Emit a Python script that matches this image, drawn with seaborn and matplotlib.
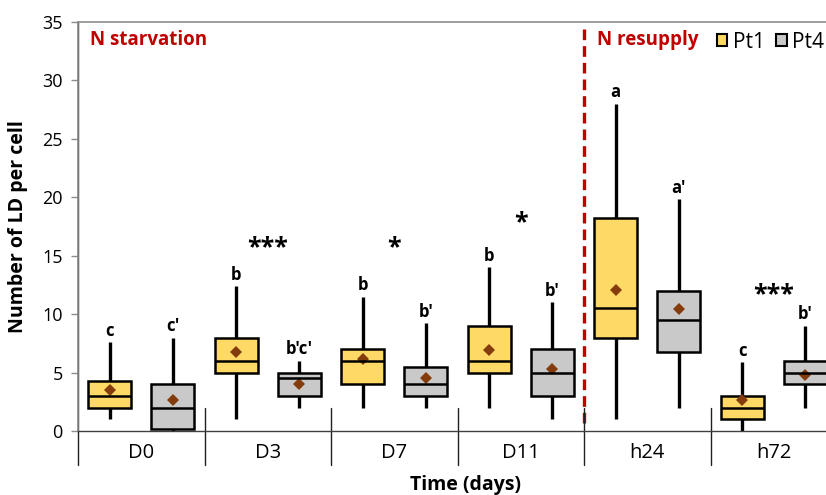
import numpy as np
import pandas as pd
import seaborn as sns
import matplotlib.pyplot as plt
from matplotlib.patches import Patch

# Data
days = ["D0", "D3", "D7", "D11", "h24", "h72"]
strains = ["Pt1", "Pt4"]

# five-number summaries: min, Q1, median, Q3, max
pt1_min = [1, 1, 2, 2, 1, 0]
pt1_q1 = [2, 5, 4, 5, 8, 1]
pt1_med = [3, 6, 6, 6, 10.5, 2]
pt1_q3 = [4.25, 8, 7, 9, 18.2, 3]
pt1_max = [7.6, 12.4, 11.5, 14, 28, 5.9]
pt1_mean = [3.55, 6.8, 6.2, 6.95, 12.05, 2.65]

pt4_min = [0, 2, 2, 1, 2, 2]
pt4_q1 = [0.2, 3, 3, 3, 6.75, 4]
pt4_med = [2, 4.5, 4, 5, 9.5, 5]
pt4_q3 = [4, 5, 5.5, 7, 12, 6]
pt4_max = [8, 6, 9.2, 11, 19.85, 9]
pt4_mean = [2.65, 4.05, 4.55, 5.3, 10.4, 4.75]

pt1_letters = ["c", "b", "b", "b", "a", "c"]
pt4_letters = ["c'", "b'c'", "b'", "b'", "a'", "b'"]
signif = ["", "***", "*", "*", "", "***"]
signif_base = [0, 15.1, 15.1, 17.3, 0, 11.1]

colors = {"Pt1": "#FFD966", "Pt4": "#C9C9C9"}
mean_color = "#843C0C"
red = "#C00000"

# long table: 5 values per box -> quartiles of 5 points are exactly Q1/med/Q3
rows = []
summ = {"Pt1": [pt1_min, pt1_q1, pt1_med, pt1_q3, pt1_max],
        "Pt4": [pt4_min, pt4_q1, pt4_med, pt4_q3, pt4_max]}
for s in strains:
    for i, d in enumerate(days):
        for arr in summ[s]:
            rows.append({"day": d, "strain": s, "value": arr[i]})
df = pd.DataFrame(rows)

means = pd.DataFrame({
    "day": days * 2,
    "strain": ["Pt1"] * 6 + ["Pt4"] * 6,
    "mean": pt1_mean + pt4_mean,
})

sns.set_style("white")
plt.rcParams["font.family"] = ["Open Sans", "DejaVu Sans"]
plt.rcParams["text.color"] = "black"
plt.rcParams["axes.labelcolor"] = "black"
plt.rcParams["xtick.color"] = "black"
plt.rcParams["ytick.color"] = "black"

fig = plt.figure(figsize=(8.26, 4.95), dpi=100)
ax = fig.add_axes([78 / 826, 1 - 431 / 495, 759 / 826, 409 / 495])

sns.boxplot(data=df, x="day", y="value", hue="strain", order=days,
            hue_order=strains, palette=colors, saturation=1, whis=np.inf,
            width=1.0, gap=0.32, linecolor="black", linewidth=1.8,
            showcaps=False, legend=False, ax=ax,
            whiskerprops={"linewidth": 2.4, "color": "black"})

sns.pointplot(data=means, x="day", y="mean", hue="strain", order=days,
              hue_order=strains, palette={"Pt1": mean_color, "Pt4": mean_color},
              dodge=0.5, markers="D", linestyles="none", errorbar=None,
              markersize=6, markeredgewidth=0, legend=False, ax=ax)

ax.set_xlim(-0.5, 5.5)
ax.set_ylim(0, 35)
ax.set_yticks(range(0, 36, 5))

# letters above whiskers
for i in range(len(days)):
    ax.text(i - 0.25, pt1_max[i] + 0.55, pt1_letters[i], ha="center",
            va="baseline", fontsize=12, fontweight="bold")
    ax.text(i + 0.25, pt4_max[i] + 0.55, pt4_letters[i], ha="center",
            va="baseline", fontsize=12, fontweight="bold")
    if signif[i]:
        ax.text(i, signif_base[i], signif[i], ha="center", va="baseline",
                fontsize=18, fontweight="bold")

# treatment divider and labels
ax.plot([3.5, 3.5], [0.7, 34.5], color=red, lw=2.4, dashes=(3.2, 1.8))
ax.text(-0.405, 33.45, "N starvation", color=red, fontsize=13.5,
        fontweight="bold", va="center")
ax.text(3.603, 33.45, "N resupply", color=red, fontsize=13.5,
        fontweight="bold", va="center")

# category separators
trans = ax.get_xaxis_transform()
for xs in np.arange(-0.5, 6, 1):
    top = 1.0 if xs == -0.5 else 2 / 35
    ax.plot([xs, xs], [top, -34 / 409], color="#202020", lw=1.0,
            transform=trans, clip_on=False)

for side in ["top", "left"]:
    ax.spines[side].set_color("#8C8C8C")
    ax.spines[side].set_linewidth(1.2)
ax.spines["bottom"].set_color("#404040")
ax.spines["bottom"].set_linewidth(1.0)
ax.spines["right"].set_visible(False)

ax.tick_params(axis="y", length=5, width=1, color="#8C8C8C", pad=6,
               labelsize=13, left=True, labelcolor="black")
ax.tick_params(axis="x", length=0, pad=9, labelsize=14.5, labelcolor="black")

ax.set_ylabel("Number of LD per cell", fontsize=14, fontweight="bold")
ax.yaxis.set_label_coords(-0.066, 0.5)
ax.set_xlabel("Time (days)", fontsize=14, fontweight="bold")
ax.xaxis.set_label_coords(0.511, -0.108)

handles = [Patch(facecolor=colors[s], edgecolor="black", linewidth=1.5)
           for s in strains]
fig.legend(handles, strains, loc="center left",
           bbox_to_anchor=(717 / 826, 1 - 42 / 495), ncol=2, frameon=False,
           fontsize=15, handlelength=0.5, handleheight=0.5,
           handletextpad=0.25, columnspacing=0.55, borderpad=0, borderaxespad=0)

fig.savefig("out.png", dpi=100)
